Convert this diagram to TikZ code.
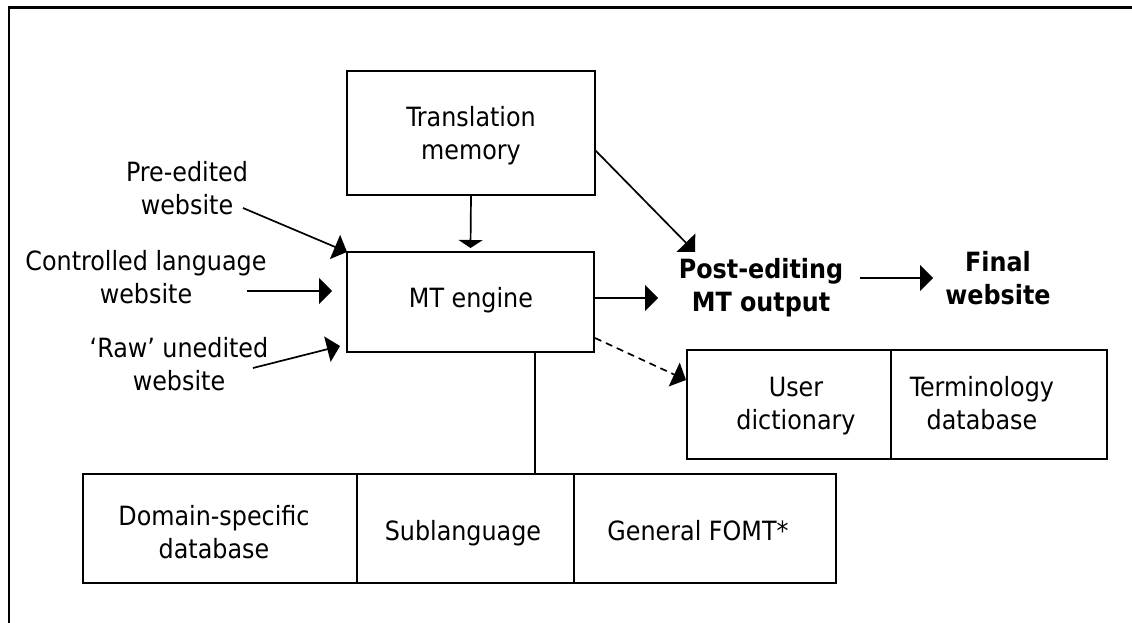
\documentclass[tikz,border=0pt]{standalone}
\usepackage{fontspec}
\setmainfont{DejaVu Sans Condensed}[BoldFont={DejaVu Sans Condensed Bold}]
\usetikzlibrary{arrows.meta,calc}
\tikzset{
  box/.style={draw, line width=1.9pt, inner sep=0pt, outer sep=0pt},
  txt/.style={font=\fontsize{26.5}{32.5}\selectfont, align=center, inner sep=0pt, anchor=base},
  btxt/.style={txt, font=\fontsize{26.5}{32.5}\selectfont\bfseries},
  arr/.style={line width=1.7pt, -{Triangle[length=13pt,width=26pt]}},
  arrflat/.style={line width=1.7pt, -{Triangle[length=8pt,width=24pt]}},
  darr/.style={arr, dash pattern=on 7pt off 5pt},
  link/.style={line width=1.9pt}
}
\begin{document}
\begin{tikzpicture}[x=1pt,y=-1pt]
\useasboundingbox (0,0) rectangle (1132,623);
% frame (only top and left edges visible)
\draw[line width=2.2pt] (9,640) -- (9,7.5) -- (1140,7.5);

% boxes
\node[box, minimum width=248pt, minimum height=124pt] (tm) at (471,133) {};
\node[box, minimum width=247pt, minimum height=100pt] (mt) at (470.5,302) {};
\node[box, minimum width=274pt, minimum height=109pt] (dom) at (220,528.5) {};
\node[box, minimum width=217pt, minimum height=109pt] (sub) at (465.5,528.5) {};
\node[box, minimum width=262pt, minimum height=109pt] (gen) at (705,528.5) {};
\node[box, minimum width=204pt, minimum height=109pt] (ud) at (789,404.5) {};
\node[box, minimum width=216pt, minimum height=109pt] (term) at (999,404.5) {};

% texts (two-line nodes: y = baseline of the last line)
\node[txt] (tmt) at (471,159) {Translation\\memory};
\node[txt] (mtt) at (471,307) {MT engine};
\node[txt] (pre) at (187,214) {Pre-edited\\website};
\node[txt] (ctl) at (146,303) {Controlled language\\website};
\node[txt] (raw) at (179,390) {‘Raw’ unedited\\website};
\node[btxt] (pe) at (761,311) {Post-editing\\MT output};
\node[btxt] (fin) at (998,304) {Final\\website};
\node[txt] (udt) at (796,429) {User\\dictionary};
\node[txt] (tt) at (982,429) {Terminology\\database};
\node[txt] (dt) at (214,558) {Domain-specific\\database};
\node[txt] (st) at (463,540) {Sublanguage};
\node[txt] (gt) at (698,540) {General FOMT*};

% connector ends
\coordinate (preS) at (243,208);
\coordinate (ctlS) at (247,291);
\coordinate (rawS) at (253,368);
\coordinate (rawE) at (340,346);
\coordinate (tmS) at (595,150);
\coordinate (peT) at (695,252);
\coordinate (mpS) at (594,298);
\coordinate (mpE) at (658,298);
\coordinate (pfS) at (860,278);
\coordinate (pfE) at (933,278);
\coordinate (dS) at (595,338);
\coordinate (dE) at (686,380);
\coordinate (j) at (535,0);

% connectors
\draw[arr] (preS) -- (mt.north west);
\draw[arr, shorten >=15pt] (ctlS) -- (ctlS -| mt.west);
\draw[arr] (rawS) -- (rawE);
\draw[arrflat] (tm.south) -- ([yshift=4pt]mt.north);
\draw[arr] (tmS) -- (peT);
\draw[arr] (mpS) -- (mpE);
\draw[arr] (pfS) -- (pfE);
\draw[darr] (dS) -- (dE);
\draw[link] (j |- mt.south) -- (j |- sub.north);
\end{tikzpicture}
\end{document}
